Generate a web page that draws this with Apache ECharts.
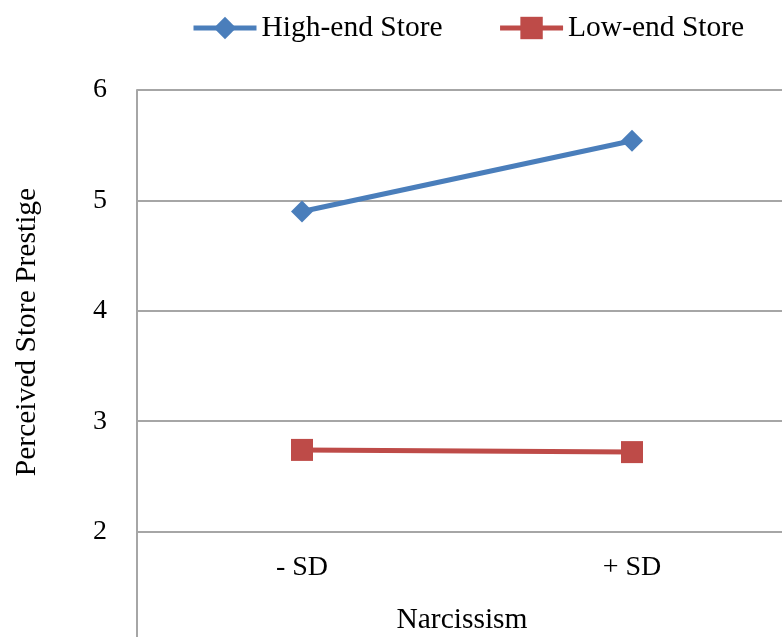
<!DOCTYPE html>
<html>
<head>
<meta charset="utf-8">
<script src="https://cdn.jsdelivr.net/npm/echarts@6/dist/echarts.min.js"></script>
<style>html,body{margin:0;padding:0;background:#fff}#c{width:782px;height:637px}</style>
</head>
<body>
<div id="c"></div>
<script>
const categories = ['- SD', '+ SD'];
const highEnd = [4.90, 5.54];
const lowEnd = [2.74, 2.72];
const seriesNames = ['High-end Store', 'Low-end Store'];
const yTicks = [1, 2, 3, 4, 5, 6];
const xTitle = 'Narcissism';
const yTitle = 'Perceived Store Prestige';

const FONT = '"Liberation Serif", "Times New Roman", serif';
const chart = echarts.init(document.getElementById('c'), null, {renderer: 'canvas'});
chart.setOption({
  animation: false,
  backgroundColor: '#ffffff',
  textStyle: {fontFamily: FONT},
  title: {
    text: xTitle,
    left: 457, top: 600, textAlign: 'center',
    textStyle: {fontFamily: FONT, fontSize: 29.5, fontWeight: 'normal', color: '#000'}
  },
  legend: {
    left: 186, top: 8,
    itemWidth: 63, itemHeight: 28, itemGap: 55,
    lineStyle: {width: 5},
    textStyle: {fontFamily: FONT, fontSize: 29.5, color: '#000'},
    data: seriesNames
  },
  grid: {left: 137, top: 90, width: 660, height: 552, containLabel: false, outerBoundsMode: 'none'},
  xAxis: {
    type: 'category',
    data: categories,
    boundaryGap: true,
    axisLine: {show: false},
    axisTick: {show: false},
    axisLabel: {inside: true, margin: 60, fontFamily: FONT, fontSize: 28, color: '#000'}
  },
  yAxis: {
    type: 'value',
    min: yTicks[0], max: yTicks[yTicks.length - 1], interval: 1,
    axisLine: {show: true, lineStyle: {color: '#a6a6a6', width: 2}},
    axisTick: {show: false},
    splitLine: {show: true, lineStyle: {color: '#a6a6a6', width: 2}},
    axisLabel: {
      margin: 30, fontFamily: FONT, fontSize: 28, color: '#000',
      formatter: v => (v === yTicks[0] ? '' : String(v))
    },
    name: yTitle,
    nameLocation: 'middle',
    nameRotate: 90,
    nameGap: 95,
    nameTextStyle: {fontFamily: FONT, fontSize: 29.5, color: '#000', padding: [0, 0, 0, 68]}
  },
  series: [
    {
      name: seriesNames[0], type: 'line', data: highEnd,
      symbol: 'diamond', symbolSize: 22,
      lineStyle: {color: '#4A7EBB', width: 5},
      itemStyle: {color: '#4A7EBB'}
    },
    {
      name: seriesNames[1], type: 'line', data: lowEnd,
      symbol: 'rect', symbolSize: 22,
      lineStyle: {color: '#BE4B48', width: 5},
      itemStyle: {color: '#BE4B48'}
    }
  ]
});
</script>
</body>
</html>
